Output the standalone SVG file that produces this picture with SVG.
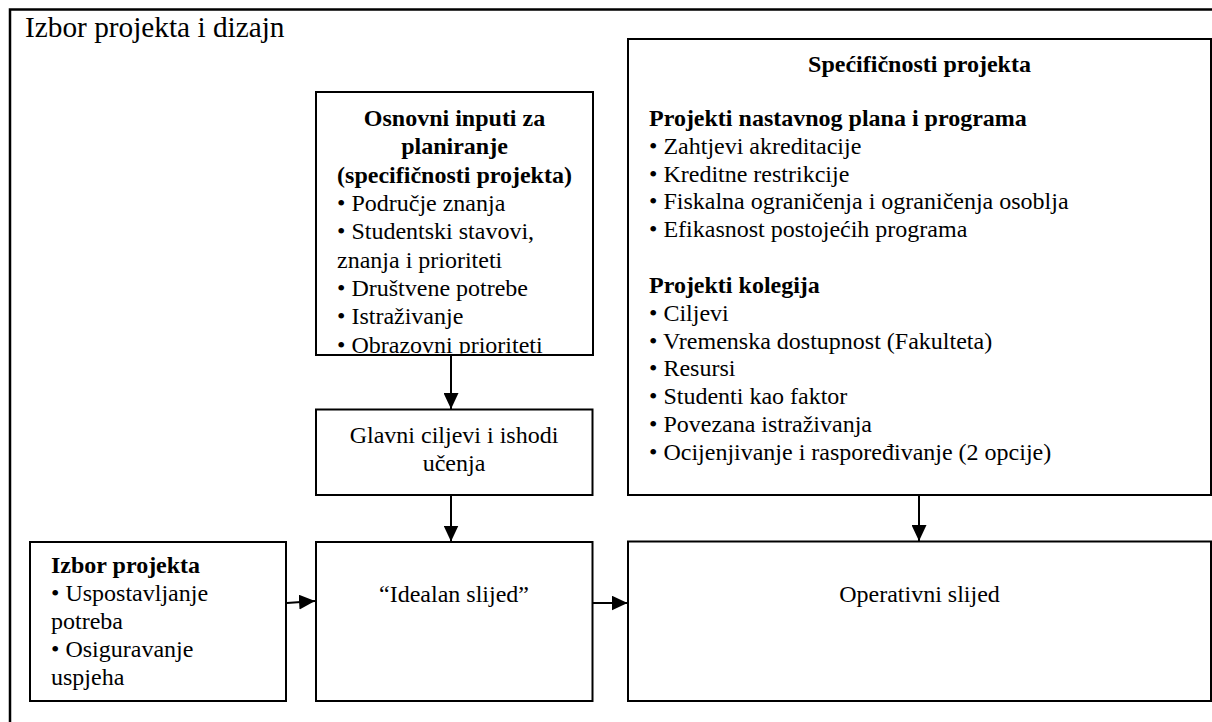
<svg xmlns="http://www.w3.org/2000/svg" width="1212" height="722" viewBox="0 0 1212 722">
  <style>
    .box { fill: #ffffff; stroke: #000000; stroke-width: 2; }
    .frame { fill: none; stroke: #000000; stroke-width: 2.5; }
    text { font-family: 'Liberation Serif', 'DejaVu Serif', serif; fill: #000000; }
    .t { font-size: 24px; }
    .b { font-weight: bold; }
    .c { text-anchor: middle; }
    .title { font-size: 29.3px; }
    .conn { fill: none; stroke: #000000; stroke-width: 2; }
  </style>
  <defs>
    <marker id="arrow" markerUnits="userSpaceOnUse" markerWidth="16" markerHeight="15" refX="16" refY="7.5" orient="auto">
      <path d="M0,0 L16,7.5 L0,15 Z" fill="#000000"/>
    </marker>
    <clipPath id="clipOsnovni">
      <rect x="317" y="93" width="275" height="260.5"/>
    </clipPath>
  </defs>
  <rect width="1212" height="722" fill="#ffffff"/>

  <g id="frame">
    <rect class="frame" x="10" y="9.5" width="1215" height="720"/>
    <text class="title" x="25" y="37">Izbor projekta i dizajn</text>
  </g>

  <g id="connectors">
    <line class="conn" x1="451" y1="355" x2="451" y2="409" marker-end="url(#arrow)"/>
    <line class="conn" x1="451" y1="495" x2="451" y2="541.5" marker-end="url(#arrow)"/>
    <line class="conn" x1="919" y1="495" x2="919" y2="541" marker-end="url(#arrow)"/>
    <line class="conn" x1="287" y1="603" x2="315" y2="601" marker-end="url(#arrow)"/>
    <line class="conn" x1="593" y1="603" x2="627.5" y2="603" marker-end="url(#arrow)"/>
  </g>

  <g id="osnovni-inputi">
    <rect class="box" x="316" y="92" width="277" height="263"/>
    <g clip-path="url(#clipOsnovni)">
      <text class="t b c" x="454.5" y="126">Osnovni inputi za</text>
      <text class="t b c" x="454.5" y="154.3">planiranje</text>
      <text class="t b c" x="454.5" y="182.6">(specifičnosti projekta)</text>
      <text class="t" x="337" y="210.9">• Područje znanja</text>
      <text class="t" x="337" y="239.2">• Studentski stavovi,</text>
      <text class="t" x="337" y="267.5">znanja i prioriteti</text>
      <text class="t" x="337" y="295.8">• Društvene potrebe</text>
      <text class="t" x="337" y="324.1">• Istraživanje</text>
      <text class="t" x="337" y="352.6">• Obrazovni prioriteti</text>
    </g>
  </g>

  <g id="specificnosti">
    <rect class="box" x="628" y="39" width="583" height="456"/>
    <text class="t b c" x="919.5" y="72">Spećifičnosti projekta</text>
    <text class="t b" x="649" y="126">Projekti nastavnog plana i programa</text>
    <text class="t" x="649" y="153.8">• Zahtjevi akreditacije</text>
    <text class="t" x="649" y="181.6">• Kreditne restrikcije</text>
    <text class="t" x="649" y="209.4">• Fiskalna ograničenja i ograničenja osoblja</text>
    <text class="t" x="649" y="237.2">• Efikasnost postojećih programa</text>
    <text class="t b" x="649" y="293">Projekti kolegija</text>
    <text class="t" x="649" y="320.8">• Ciljevi</text>
    <text class="t" x="649" y="348.6">• Vremenska dostupnost (Fakulteta)</text>
    <text class="t" x="649" y="376.4">• Resursi</text>
    <text class="t" x="649" y="404.2">• Studenti kao faktor</text>
    <text class="t" x="649" y="432">• Povezana istraživanja</text>
    <text class="t" x="649" y="459.8">• Ocijenjivanje i raspoređivanje (2 opcije)</text>
  </g>

  <g id="glavni-ciljevi">
    <rect class="box" x="316" y="409.5" width="276.5" height="85.5"/>
    <text class="t c" x="454" y="443">Glavni ciljevi i ishodi</text>
    <text class="t c" x="454" y="471">učenja</text>
  </g>

  <g id="izbor-projekta">
    <rect class="box" x="30" y="542" width="256" height="159"/>
    <text class="t b" x="51" y="573">Izbor projekta</text>
    <text class="t" x="51" y="601">• Uspostavljanje</text>
    <text class="t" x="51" y="629">potreba</text>
    <text class="t" x="51" y="657">• Osiguravanje</text>
    <text class="t" x="51" y="685">uspjeha</text>
  </g>

  <g id="idealan-slijed">
    <rect class="box" x="316" y="542" width="276.5" height="159"/>
    <text class="t c" x="454" y="602">“Idealan slijed”</text>
  </g>

  <g id="operativni-slijed">
    <rect class="box" x="628" y="541.5" width="583" height="159.5"/>
    <text class="t c" x="919.5" y="602">Operativni slijed</text>
  </g>
</svg>
